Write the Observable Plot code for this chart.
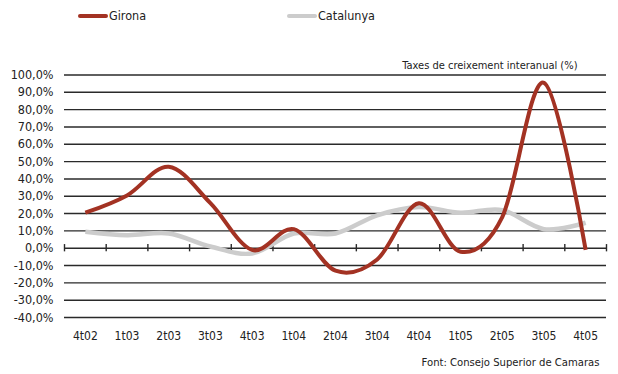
<!DOCTYPE html>
<html>
<head>
<meta charset="utf-8">
<script src="https://cdn.jsdelivr.net/npm/d3@7"></script>
<script src="https://cdn.jsdelivr.net/npm/@observablehq/plot@0.6"></script>
<style>
  html, body { margin: 0; padding: 0; background: #fff; }
  #wrap { position: relative; width: 618px; height: 374px; font-family: "DejaVu Sans Condensed", "DejaVu Sans", sans-serif; color: #222; }
  .leg { position: absolute; top: 8px; display: flex; align-items: center; font-size: 12.5px; }
  .sw { width: 30px; height: 4px; border-radius: 2px; margin-right: 1px; }
</style>
</head>
<body>
<div id="wrap"></div>
<script>
const quarters = ["4t02","1t03","2t03","3t03","4t03","1t04","2t04","3t04","4t04","1t05","2t05","3t05","4t05"];
const girona    = [20.5, 30.5, 47, 26, -1, 11, -13, -6.5, 26, -2, 18, 95.5, -1];
const catalunya = [9.5, 7.5, 8.5, 1, -3, 8.5, 8.5, 19, 23.8, 20.5, 22, 11, 14.7];
const yTicks = [100, 90, 80, 70, 60, 50, 40, 30, 20, 10, 0, -10, -20, -30, -40];
const seriesNames = ["Girona", "Catalunya"];
const seriesColors = ["#a33223", "#cccccc"];
const unitLabel = "Taxes de creixement interanual (%)";
const sourceLabel = "Font: Consejo Superior de Camaras";

const rows = (vals) => vals.map((v, i) => ({i, v}));
const boundaries = d3.range(-0.5, quarters.length, 1);
const fmt = (d) => d.toFixed(1).replace(".", ",") + "%";

const wrap = document.getElementById("wrap");

const chart = Plot.plot({
  width: 618,
  height: 374,
  marginTop: 74.5,
  marginBottom: 57,
  marginLeft: 64,
  marginRight: 12,
  style: { fontFamily: "DejaVu Sans Condensed, DejaVu Sans, sans-serif", color: "#222", background: "#fff", overflow: "visible" },
  x: { type: "linear", domain: [-0.5, quarters.length - 0.5] },
  y: { domain: [-40, 100] },
  marks: [
    Plot.ruleY(yTicks.filter(d => d !== 0), { stroke: "#2a2a2a", strokeWidth: 1.4 }),
    Plot.ruleY([0], { stroke: "#2a2a2a", strokeWidth: 1.6 }),
    Plot.ruleX(boundaries, { y1: -2.1, y2: 2.1, stroke: "#2a2a2a", strokeWidth: 1.4 }),
    Plot.axisY(yTicks, { tickSize: 0, tickPadding: 11, tickFormat: fmt, fontSize: 12.5, label: null }),
    Plot.axisX(d3.range(quarters.length), { tickSize: 0, tickPadding: 14, tickFormat: (i) => quarters[i], fontSize: 12, label: null }),
    Plot.line(rows(catalunya), { x: "i", y: "v", curve: "cardinal", stroke: seriesColors[1], strokeWidth: 4.5, strokeLinecap: "butt" }),
    Plot.line(rows(girona), { x: "i", y: "v", curve: "cardinal", stroke: seriesColors[0], strokeWidth: 4, strokeLinecap: "butt" }),
    Plot.text([unitLabel], { frameAnchor: "top-right", dx: -29, dy: -14, fontSize: 11, fill: "#222" }),
    Plot.text([sourceLabel], { frameAnchor: "bottom-right", dx: -7, dy: 48, fontSize: 11.2, fill: "#222" })
  ]
});
wrap.appendChild(chart);

const legPos = [78, 287];
seriesNames.forEach((name, k) => {
  const d = document.createElement("div");
  d.className = "leg";
  d.style.left = legPos[k] + "px";
  d.innerHTML = `<span class="sw" style="background:${seriesColors[k]}"></span><span>${name}</span>`;
  wrap.appendChild(d);
});
</script>
</body>
</html>
